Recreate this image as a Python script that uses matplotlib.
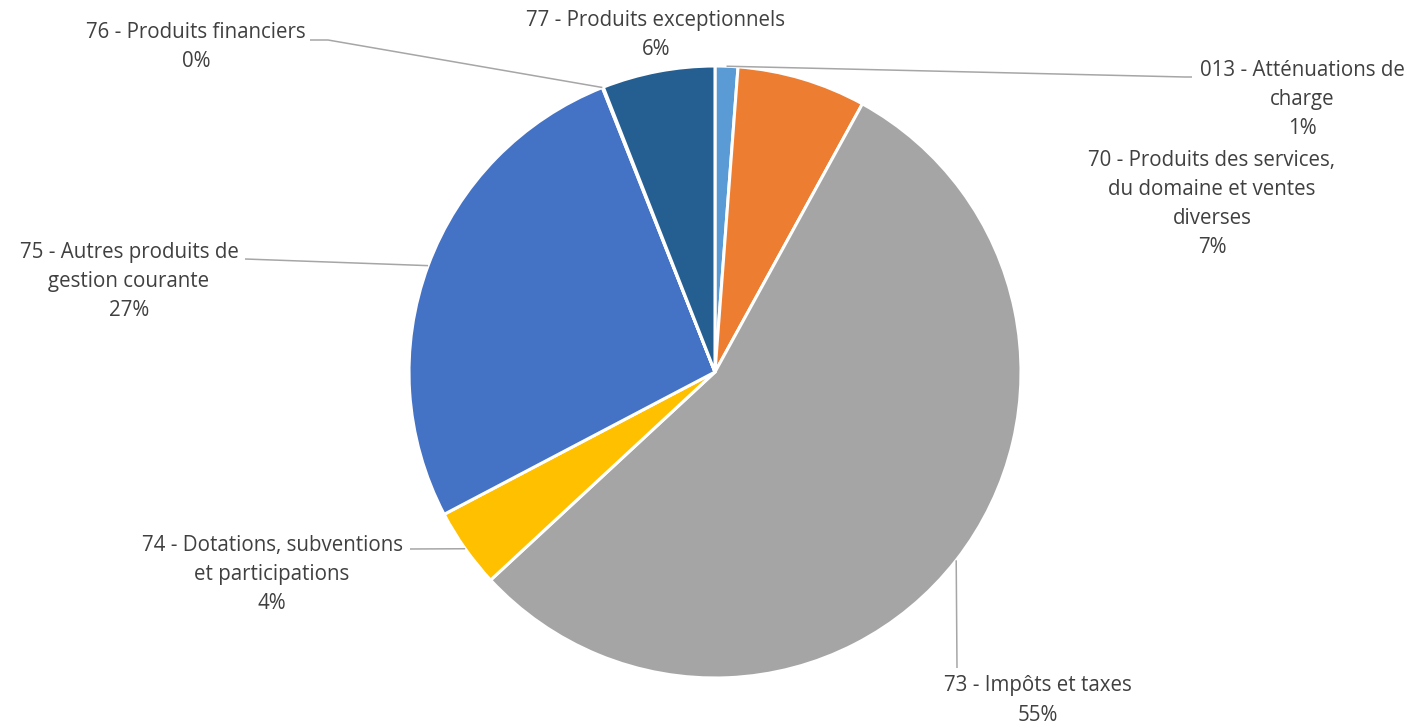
import numpy as np
import matplotlib
matplotlib.use("Agg")
import matplotlib.pyplot as plt

# Budget chapters (share of receipts, %)
categories = [
    "013 - Atténuations de charge",
    "70 - Produits des services, du domaine et ventes diverses",
    "73 - Impôts et taxes",
    "74 - Dotations, subventions et participations",
    "75 - Autres produits de gestion courante",
    "76 - Produits financiers",
    "77 - Produits exceptionnels",
]
values = [1.2, 6.8, 55.1, 4.2, 26.7, 0.05, 5.95]
colors = ["#5B9BD5", "#ED7D31", "#A5A5A5", "#FFC000", "#4472C4", "#70AD47", "#255E91"]

# Label text lines (category wrapped as displayed)
label_lines = [
    ["013 - Atténuations de", "charge"],
    ["70 - Produits des services,", "du domaine et ventes", "diverses"],
    ["73 - Impôts et taxes"],
    ["74 - Dotations, subventions", "et participations"],
    ["75 - Autres produits de", "gestion courante"],
    ["76 - Produits financiers"],
    ["77 - Produits exceptionnels"],
]

W, H = 1414, 725
fig = plt.figure(figsize=(W / 100, H / 100), dpi=100)
ax = fig.add_axes([0, 0, 1, 1])
ax.set_xlim(0, W)
ax.set_ylim(0, H)
ax.set_aspect("equal")
ax.axis("off")


def P(x, y):
    """Pixel position (origin top-left) to axes data coordinates."""
    return x, H - y


cx, cy = P(715, 372)
R = 306
ax.pie(values, colors=colors, startangle=90, counterclock=False,
       center=(cx, cy), radius=R,
       wedgeprops=dict(edgecolor="white", linewidth=2.2))
ax.set_xlim(0, W)
ax.set_ylim(0, H)

total = sum(values)
pcts = [f"{round(v / total * 100):.0f}%" for v in values]

# Mid-angle of each wedge (clockwise from 12 o'clock)
cum = np.cumsum([0] + values[:-1])
mid_frac = [(c + v / 2) / total for c, v in zip(cum, values)]
start_frac = [c / total for c in cum]


def edge_point(frac):
    a = 2 * np.pi * frac
    return cx + R * np.sin(a), cy + R * np.cos(a)


# Label placement: centre x, y of first line (pixels), leader elbow points
label_pos = [
    (1302, 70), (1212, 160), (1038, 686), (272, 545),
    (129, 252), (196, 32), (656, 20),
]
leaders = {
    0: [P(1185, 77), P(1192, 77)],
    2: [P(957, 668)],
    3: [P(410, 549)],
    4: [P(245, 259)],
    5: [P(328, 40), P(310, 40)],
}
# anchor on the wedge rim: mid-angle, except the near-empty slice (its start)
anchors = {i: edge_point(mid_frac[i]) for i in range(len(values))}
anchors[5] = edge_point(start_frac[5])

for i, pts in leaders.items():
    xs = [anchors[i][0]] + [p[0] for p in pts]
    ys = [anchors[i][1]] + [p[1] for p in pts]
    ax.plot(xs, ys, color="#A6A6A6", lw=1.1, solid_capstyle="butt", zorder=1)

line_h = 29.3
for i, lines in enumerate(label_lines):
    x0, y0 = label_pos[i]
    for k, txt in enumerate(lines + [pcts[i]]):
        ax.text(*P(x0, y0 + k * line_h), txt, ha="center", va="center",
                fontsize=14.8, color="#404040", family=["Open Sans", "DejaVu Sans"])

fig.savefig("out.png", dpi=100, facecolor="white")
